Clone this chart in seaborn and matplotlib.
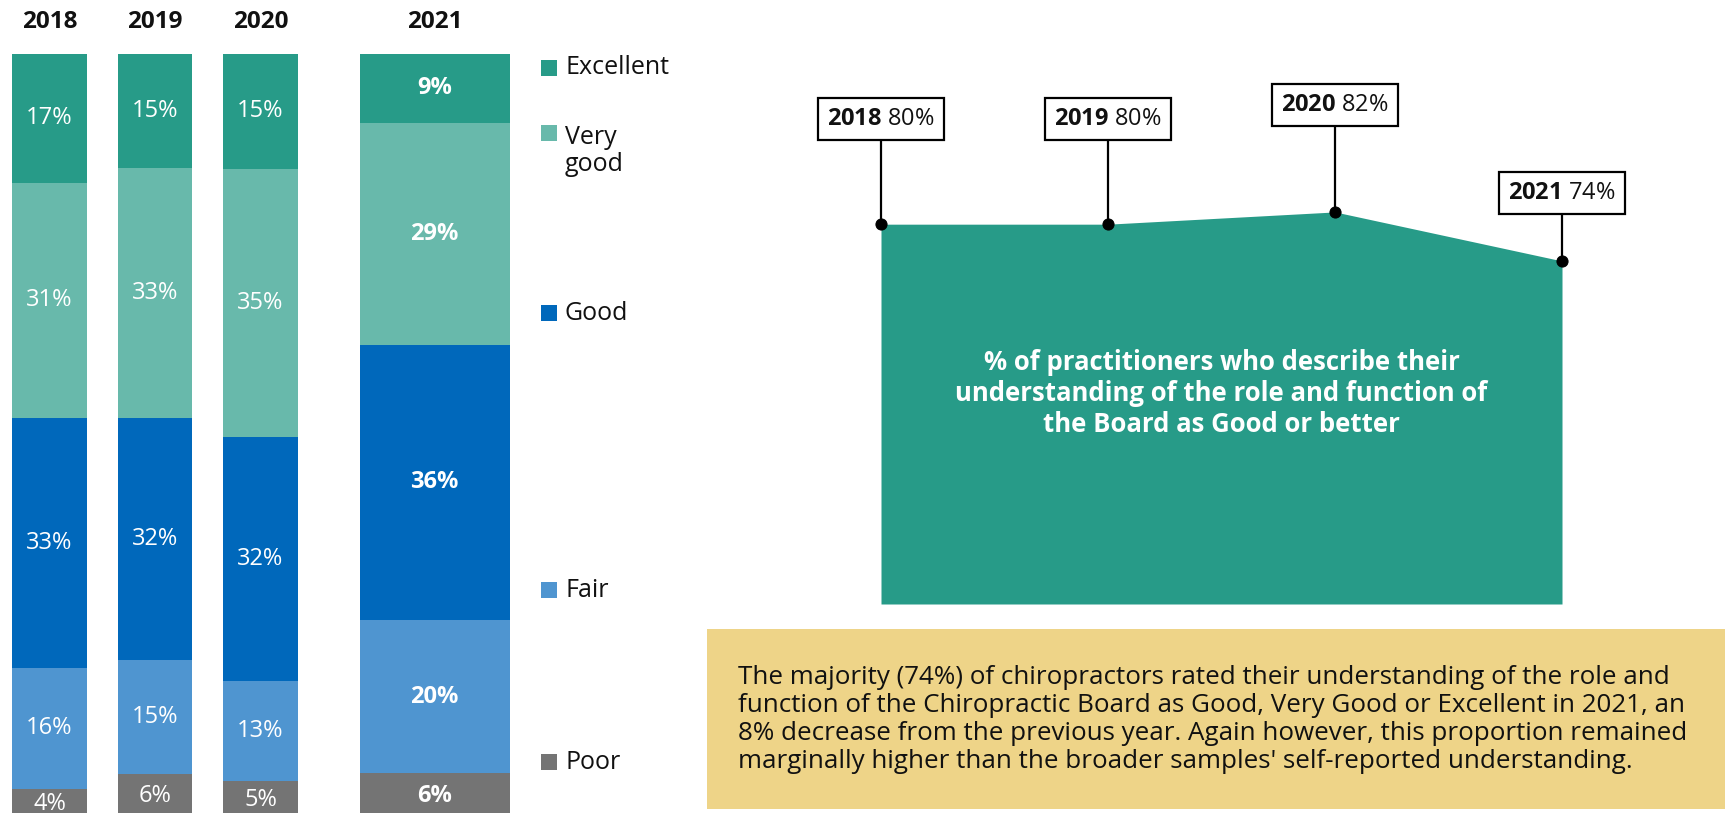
import numpy as np
import matplotlib
matplotlib.use("Agg")
import matplotlib.pyplot as plt
from matplotlib.patches import Rectangle
import seaborn as sns

# data
years = ["2018", "2019", "2020", "2021"]
categories = ["Excellent", "Very good", "Good", "Fair", "Poor"]
excellent = [17, 15, 15, 9]
very_good = [31, 33, 35, 29]
good = [33, 32, 32, 36]
fair = [16, 15, 13, 20]
poor = [4, 6, 5, 6]

trend_years = [2018, 2019, 2020, 2021]
good_or_better = [80, 80, 82, 74]

colors = ["#279B88", "#68B9AB", "#0068BB", "#4F95D0", "#747474"]
teal = "#279B88"
yellow = "#EED488"
W, H = 1725, 813

sns.set_theme(style="white")
plt.rcParams["font.family"] = ["Open Sans", "DejaVu Sans"]
plt.rcParams["mathtext.fontset"] = "custom"
plt.rcParams["mathtext.rm"] = "Open Sans"
plt.rcParams["mathtext.bf"] = "Open Sans:bold"


def main():
    fig = plt.figure(figsize=(W / 100, H / 100), dpi=100)

    # --- stacked bars (left) ---
    ax = fig.add_axes([0, 0, 540 / W, 759 / H])
    bar_x = np.array([0, 1, 2, 3.65])
    widths = np.array([0.71, 0.71, 0.71, 1.42])
    series = np.array([excellent, very_good, good, fair, poor], dtype=float)
    norm = series / series.sum(axis=0) * 100
    bottom = np.zeros(len(years))
    for i, cat in enumerate(categories):
        ax.bar(bar_x, norm[i], bottom=bottom, width=widths, color=colors[i], linewidth=0)
        for j in range(len(years)):
            bold = years[j] == "2021"
            ax.text(bar_x[j], bottom[j] + norm[i, j] / 2, f"{int(series[i, j])}%",
                    ha="center", va="center", color="white", fontsize=17,
                    fontweight="bold" if bold else "normal")
        bottom += norm[i]
    for j, yr in enumerate(years):
        ax.text(bar_x[j], -4.2, yr, ha="center", va="center", fontsize=17.5,
                fontweight="bold", color="#111111", clip_on=False)
    ax.set_xlim(-0.469, 4.649)
    ax.set_ylim(99.2, 0)
    ax.axis("off")

    # legend
    leg_y = [68, 133, 313, 590, 762]
    leg_txt = ["Excellent", "Very\ngood", "Good", "Fair", "Poor"]
    for c, yc, t in zip(colors, leg_y, leg_txt):
        fig.add_artist(Rectangle((541 / W, (H - yc - 8) / H), 16 / W, 16 / H,
                                 transform=fig.transFigure, fc=c, ec="none"))
        if "\n" in t:
            fig.text(565 / W, (H - yc + 8) / H, t, ha="left", va="top",
                     fontsize=18, color="#111111", linespacing=1.08)
        else:
            fig.text(565 / W, (H - yc) / H, t, ha="left", va="center",
                     fontsize=18, color="#111111")

    # --- area chart (right) ---
    ax2 = fig.add_axes([881 / W, 209 / H, 681 / W, 544 / H])
    base = 18
    ax2.fill_between(trend_years, good_or_better, base, color=teal, linewidth=0)
    sns.lineplot(x=trend_years, y=good_or_better, ax=ax2, color=teal, linewidth=0,
                 marker="o", markersize=8, markerfacecolor="black",
                 markeredgecolor="black", clip_on=False, zorder=5)
    offsets = [76, 76, 77, 49]
    for yr, v, off in zip(trend_years, good_or_better, offsets):
        ax2.annotate(rf"$\mathbf{{{yr}}}$ {v}%", xy=(yr, v), xytext=(0, off),
                     textcoords="offset points", ha="center", va="center",
                     fontsize=17, color="#111111",
                     bbox=dict(boxstyle="square,pad=0.38", fc="white", ec="black", lw=1.6),
                     arrowprops=dict(arrowstyle="-", color="black", lw=1.6,
                                     shrinkA=0, shrinkB=0),
                     annotation_clip=False)
    ax2.text(2019.5, 52.4,
             "% of practitioners who describe their\nunderstanding of the role and function of\nthe Board as Good or better",
             ha="center", va="center", color="white", fontsize=18.5,
             fontweight="bold", linespacing=1.2)
    ax2.set_xlim(2018, 2021)
    ax2.set_ylim(base, 106.8)
    ax2.axis("off")

    # --- commentary box ---
    fig.add_artist(Rectangle((707 / W, 4 / H), 1018 / W, 180 / H,
                             transform=fig.transFigure, fc=yellow, ec="none", zorder=0))
    fig.text(738 / W, (H - 719.5) / H,
             "The majority (74%) of chiropractors rated their understanding of the role and\n"
             "function of the Chiropractic Board as Good, Very Good or Excellent in 2021, an\n"
             "8% decrease from the previous year. Again however, this proportion remained\n"
             "marginally higher than the broader samples' self-reported understanding.",
             ha="left", va="center", fontsize=18.7, color="#111111", linespacing=1.15)

    fig.savefig("out.png", dpi=100, facecolor="white")
    plt.close(fig)


if __name__ == "__main__":
    main()
